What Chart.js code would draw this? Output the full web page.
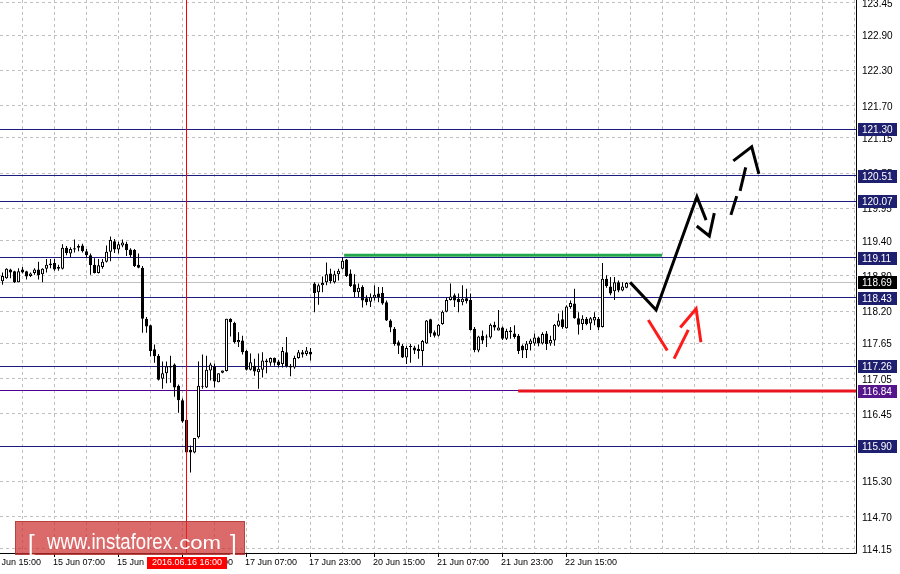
<!DOCTYPE html>
<html>
<head>
<meta charset="utf-8">
<script src="https://cdn.jsdelivr.net/npm/chart.js@4.4.0/dist/chart.umd.min.js"></script>
<style>
  html, body { margin: 0; padding: 0; background: #fff; }
</style>
</head>
<body>
<canvas id="myChart" width="900" height="574"></canvas>
<script>
  // H1 bars, index 0 = 14 Jun 15:00 (weekend hours skipped)
  const firstBar = 3;

  const openP = [
    118.71,118.76,118.91,118.88,118.69,118.91,118.88,118.80,118.85,118.91,
    118.83,118.92,118.98,119.02,118.95,118.92,119.28,119.18,119.27,119.28,
    119.32,119.22,119.15,118.99,118.85,118.95,119.04,119.21,119.39,119.25,
    119.32,119.35,119.25,119.24,118.99,118.94,118.07,117.96,117.55,117.44,
    117.05,117.14,117.24,117.29,116.93,116.68,116.35,115.84,115.79,116.05,
    116.91,116.90,117.19,117.26,116.99,117.15,117.18,118.07,118.00,117.67,
    117.70,117.52,117.20,117.27,117.16,117.20,117.33,117.32,117.40,117.34,
    117.30,117.50,117.27,117.24,117.40,117.50,117.47,117.51,118.67,118.52,
    118.64,118.69,118.84,118.69,118.83,118.92,119.08,118.84,118.66,118.52,
    118.61,118.42,118.36,118.43,118.50,118.51,118.35,118.04,117.90,117.67,
    117.61,117.41,117.59,117.58,117.56,117.52,117.65,118.06,117.84,117.78,
    117.98,118.19,118.39,118.47,118.41,118.35,118.42,118.39,117.90,117.53,
    117.78,117.77,117.75,117.97,117.87,117.92,117.73,117.84,117.82,117.78,
    117.61,117.54,117.64,117.65,117.75,117.65,117.82,117.65,117.70,117.95,
    118.06,117.91,118.27,118.33,118.08,117.98,118.07,117.99,118.04,118.07,
    117.93,118.75,118.62,118.54,118.69,118.55,118.60
  ];
  const highP = [
    118.86,118.93,118.92,118.89,118.93,118.95,118.89,118.86,118.93,119.04,
    118.93,119.09,119.09,119.09,118.99,119.34,119.31,119.29,119.42,119.34,
    119.35,119.26,119.18,119.10,119.09,119.09,119.32,119.47,119.43,119.38,
    119.42,119.38,119.27,119.26,119.18,118.97,118.10,117.97,117.63,117.47,
    117.34,117.34,117.44,117.31,116.95,116.71,116.37,115.91,116.04,117.34,
    117.46,117.44,117.32,117.31,117.14,117.19,118.07,118.08,118.02,117.84,
    117.78,117.54,117.48,117.39,117.48,117.50,117.39,117.41,117.41,117.37,
    117.59,117.76,117.30,117.44,117.54,117.54,117.59,117.57,118.69,118.67,
    118.79,119.03,118.92,118.89,118.92,119.12,119.09,118.91,118.83,118.67,
    118.64,118.47,118.50,118.64,118.61,118.61,118.38,118.06,117.93,117.70,
    117.64,117.61,117.64,117.61,117.63,117.71,118.05,118.07,117.87,117.98,
    118.21,118.43,118.67,118.50,118.50,118.64,118.58,118.50,117.93,117.78,
    117.87,117.80,117.99,118.02,118.22,117.94,117.90,117.93,117.96,117.81,
    117.63,117.69,117.73,117.82,117.77,117.84,117.86,117.78,117.98,118.16,
    118.21,118.30,118.38,118.58,118.18,118.13,118.10,118.10,118.18,118.10,
    119.02,118.81,118.78,118.78,118.72,118.69,118.69
  ];
  const lowP = [
    118.65,118.75,118.76,118.68,118.69,118.84,118.74,118.78,118.82,118.74,
    118.69,118.86,118.93,118.89,118.89,118.91,119.15,119.12,119.20,119.22,
    119.20,119.11,118.82,118.84,118.84,118.92,119.03,119.05,119.19,119.18,
    119.29,119.14,119.12,118.95,118.93,117.83,117.83,117.43,117.32,117.02,
    116.88,116.97,116.98,116.74,116.47,116.30,115.78,115.45,115.78,116.03,
    116.88,116.89,117.02,116.90,116.99,117.14,117.17,117.77,117.65,117.59,
    117.46,117.19,117.19,117.10,116.88,117.07,117.14,117.27,117.27,117.24,
    117.24,117.24,117.09,117.22,117.39,117.41,117.44,117.36,118.18,118.31,
    118.52,118.64,118.67,118.67,118.72,118.91,118.78,118.61,118.44,118.44,
    118.26,118.30,118.27,118.38,118.35,118.31,118.03,117.84,117.61,117.47,
    117.40,117.30,117.32,117.47,117.39,117.27,117.64,117.76,117.75,117.77,
    117.97,118.18,118.38,118.27,118.18,118.30,118.33,117.87,117.50,117.50,
    117.64,117.59,117.73,117.87,117.87,117.71,117.71,117.73,117.73,117.47,
    117.40,117.40,117.53,117.61,117.60,117.63,117.54,117.61,117.61,117.93,
    117.90,117.90,118.24,118.07,117.80,117.88,117.96,117.88,117.96,117.88,
    117.92,118.60,118.47,118.39,118.52,118.54,118.59
  ];
  const closeP = [
    118.80,118.92,118.86,118.69,118.88,118.86,118.79,118.84,118.91,118.81,
    118.92,118.99,119.01,118.91,118.92,119.28,119.19,119.26,119.25,119.31,
    119.22,119.15,118.98,118.85,118.98,119.04,119.21,119.41,119.25,119.34,
    119.37,119.24,119.15,118.97,118.94,118.07,117.94,117.52,117.43,117.03,
    117.14,117.26,117.27,116.90,116.68,116.32,115.79,115.79,116.04,116.93,
    116.93,117.20,117.29,117.00,117.14,117.19,118.07,118.01,117.67,117.71,
    117.50,117.20,117.33,117.17,117.22,117.36,117.36,117.40,117.32,117.28,
    117.52,117.26,117.24,117.40,117.50,117.46,117.53,117.46,118.51,118.64,
    118.68,118.83,118.71,118.83,118.89,119.06,118.80,118.63,118.52,118.60,
    118.38,118.35,118.44,118.48,118.44,118.33,118.04,117.92,117.64,117.61,
    117.41,117.57,117.60,117.53,117.52,117.69,118.04,117.82,117.78,117.97,
    118.19,118.39,118.45,118.38,118.35,118.41,118.37,117.88,117.54,117.77,
    117.70,117.75,117.97,117.92,117.92,117.73,117.86,117.87,117.76,117.52,
    117.53,117.65,117.70,117.75,117.65,117.81,117.64,117.71,117.97,118.04,
    117.93,118.28,118.34,118.08,117.97,118.07,117.98,118.08,118.10,117.92,
    118.75,118.63,118.50,118.69,118.55,118.62,118.68
  ];

  const yTicks = [123.45,122.90,122.30,121.70,121.15,120.55,119.95,119.40,118.80,
                  118.20,117.65,117.05,116.45,115.90,115.30,114.70,114.15];
  const xTickIndex = [0,16,32,48,64,80,96,112,128,144];
  const xTickText = ['14 Jun 15:00','15 Jun 07:00','15 Jun 23:00','16 Jun 15:00','17 Jun 07:00',
                     '17 Jun 23:00','20 Jun 15:00','21 Jun 07:00','21 Jun 23:00','22 Jun 15:00'];

  const blueLevels = [121.30,120.51,120.07,119.11,118.43,117.26,115.90];
  const purpleLevel = 116.84;
  const lastPrice = 118.69;
  const markerBar = 49;
  const markerText = '2016.06.16 16:00';

  // drawn analysis: [bar index, price]
  const greenLine = [[88.4,119.15],[167.9,119.15]];
  const redLine = [[131.9,116.84],[216.4,116.84]];
  const blackMain = [[159.9,118.69],[166.4,118.22],[176.6,120.15],[178.9,119.75]];
  const blackHook = [[176.55,119.65],[179.7,119.48],[180.95,119.87]];
  const blackDash1 = [[185.1,119.84],[186.55,120.16]];
  const blackDash2 = [[187.4,120.25],[188.8,120.65]];
  const blackHead = [[185.7,120.76],[190.3,121.00],[192.1,120.54]];
  const redStroke1 = [[164.45,118.05],[169.2,117.53]];
  const redStroke2 = [[170.9,117.39],[174.45,117.88]];
  const redHead = [[172.45,117.92],[176.4,118.24],[177.6,117.67]];

  const X_MIN = 2.375, X_MAX = 216.375;
  const font9 = '9px "Liberation Sans", Arial, sans-serif';
  const font10 = '10px "Liberation Sans", Arial, sans-serif';

  const bars = openP.map((o, k) => firstBar + k);
  const bodyData = bars.map((x, k) => ({x: x, y: [openP[k], closeP[k]]}));
  const wickData = bars.map((x, k) => ({x: x, y: [lowP[k], highP[k]]}));
  const bodyFill = bars.map((x, k) => closeP[k] >= openP[k] ? '#ffffff' : '#000000');

  function stroke(points, color, width) {
    return {
      type: 'line',
      data: points.map(p => ({x: p[0], y: p[1]})),
      borderColor: color,
      borderWidth: width,
      pointRadius: 0,
      tension: 0,
      fill: false,
      borderCapStyle: 'butt',
      borderJoinStyle: 'miter',
      order: 0
    };
  }

  const mtOverlay = {
    id: 'mtOverlay',
    beforeDatasetsDraw(chart) {
      const {ctx, chartArea: a, scales: {x, y}} = chart;
      const hline = (v, color) => {
        const py = Math.round(y.getPixelForValue(v) - 0.5) + 0.5;
        ctx.strokeStyle = color;
        ctx.beginPath(); ctx.moveTo(a.left, py); ctx.lineTo(a.right, py); ctx.stroke();
      };
      ctx.save();
      ctx.lineWidth = 1;
      ctx.strokeStyle = '#c0c0c0';
      ctx.setLineDash([3, 3]);
      for (let v = 0; v <= 216; v += 8) {
        const px = Math.round(x.getPixelForValue(v) - 0.5) + 0.5;
        if (px < a.left || px > a.right) continue;
        ctx.beginPath(); ctx.moveTo(px, a.top); ctx.lineTo(px, a.bottom); ctx.stroke();
      }
      yTicks.forEach(v => {
        const py = Math.round(y.getPixelForValue(v) - 0.5) + 0.5;
        ctx.beginPath(); ctx.moveTo(a.left, py); ctx.lineTo(a.right, py); ctx.stroke();
      });
      ctx.setLineDash([]);
      hline(lastPrice, '#c0c0c0');
      blueLevels.forEach(v => hline(v, '#1c1c80'));
      hline(purpleLevel, '#500090');
      ctx.restore();
    },
    afterDatasetsDraw(chart) {
      const {ctx, chartArea: a, scales: {x}} = chart;
      const px = Math.round(x.getPixelForValue(markerBar) - 0.5) + 0.5;
      ctx.save();
      ctx.strokeStyle = '#ff0000';
      ctx.lineWidth = 1;
      ctx.beginPath(); ctx.moveTo(px, a.top); ctx.lineTo(px, a.bottom); ctx.stroke();
      ctx.restore();
    },
    afterDraw(chart) {
      const {ctx, chartArea: a, scales: {x, y}} = chart;
      ctx.save();
      // axis lines
      ctx.strokeStyle = '#000';
      ctx.lineWidth = 1;
      ctx.beginPath();
      ctx.moveTo(a.left, a.bottom + 0.5); ctx.lineTo(a.right + 0.5, a.bottom + 0.5);
      ctx.lineTo(a.right + 0.5, a.top);
      ctx.stroke();

      // price scale
      ctx.font = font10;
      ctx.textBaseline = 'middle';
      ctx.textAlign = 'left';
      ctx.fillStyle = '#000';
      yTicks.forEach(v => {
        const py = Math.round(y.getPixelForValue(v));
        ctx.fillText(v.toFixed(2), a.right + 6, py + 1);
      });
      const box = (v, bg) => {
        const py = Math.round(y.getPixelForValue(v));
        ctx.fillStyle = bg;
        ctx.fillRect(a.right + 2, py - 6, 39, 13);
        ctx.fillStyle = '#fff';
        ctx.fillText(v.toFixed(2), a.right + 6, py + 1);
      };
      blueLevels.forEach(v => box(v, '#1f1f6f'));
      box(purpleLevel, '#55168c');
      box(lastPrice, '#000000');

      // time scale
      ctx.font = font9;
      ctx.fillStyle = '#000';
      xTickIndex.forEach((v, k) => {
        const px = Math.round(x.getPixelForValue(v) - 0.5);
        ctx.fillRect(px, a.bottom + 1, 1, 3);
        ctx.fillText(xTickText[k], px - 1, a.bottom + 10);
      });

      // watermark
      ctx.fillStyle = 'rgba(205,50,50,0.72)';
      ctx.fillRect(15, 521, 230, 34);
      ctx.strokeStyle = 'rgba(160,40,40,0.6)';
      ctx.strokeRect(15.5, 521.5, 229, 33);
      ctx.fillStyle = '#fff';
      ctx.textBaseline = 'alphabetic';
      ctx.font = '24px "Liberation Sans", Arial, sans-serif';
      ctx.fillText('[', 28, 551);
      ctx.fillText(']', 230, 551);
      ctx.font = '22px "Liberation Sans", Arial, sans-serif';
      const main = 'www.instaforex';
      const w1 = ctx.measureText(main).width;
      ctx.save();
      ctx.translate(47, 549);
      ctx.scale(125 / w1, 1);
      ctx.fillText(main, 0, 0);
      ctx.restore();
      ctx.font = '19px "Liberation Sans", Arial, sans-serif';
      const w2 = ctx.measureText('.com').width;
      ctx.save();
      ctx.translate(173, 549);
      ctx.scale(48 / w2, 1);
      ctx.fillText('.com', 0, 0);
      ctx.restore();

      // marker time label
      const mx = Math.round(x.getPixelForValue(markerBar));
      ctx.fillStyle = '#ff0000';
      ctx.fillRect(mx - 40, a.bottom + 4, 80, 12);
      ctx.fillStyle = '#fff';
      ctx.font = font9;
      ctx.textAlign = 'center';
      ctx.textBaseline = 'middle';
      ctx.fillText(markerText, mx, a.bottom + 10);
      ctx.restore();
    }
  };

  const data = {
    datasets: [
      stroke(greenLine, '#22a84a', 3),
      stroke(redLine, '#e8141e', 3),
      stroke(blackMain, '#000000', 3),
      stroke(blackHook, '#000000', 3),
      stroke(blackDash1, '#000000', 3),
      stroke(blackDash2, '#000000', 3),
      stroke(blackHead, '#000000', 3),
      stroke(redStroke1, '#ff1a1a', 3),
      stroke(redStroke2, '#ff1a1a', 3),
      stroke(redHead, '#ff1a1a', 3),
      {
        label: 'body',
        data: bodyData,
        backgroundColor: bodyFill,
        borderColor: '#000000',
        borderWidth: 1,
        borderSkipped: false,
        barThickness: 3,
        grouped: false,
        inflateAmount: 0,
        minBarLength: 1,
        order: 1
      },
      {
        label: 'wick',
        data: wickData,
        backgroundColor: '#000000',
        borderWidth: 0,
        barThickness: 1,
        grouped: false,
        inflateAmount: 0,
        order: 2
      }
    ]
  };

  const config = {
    type: 'bar',
    data: data,
    options: {
      responsive: false,
      devicePixelRatio: 1,
      animation: false,
      layout: { padding: 0 },
      plugins: { legend: { display: false }, tooltip: { enabled: false } },
      scales: {
        x: {
          type: 'linear',
          min: X_MIN,
          max: X_MAX,
          offset: false,
          ticks: { display: false },
          grid: { display: false, offset: false },
          border: { display: false },
          afterFit: s => { s.height = 21; }
        },
        y: {
          position: 'right',
          min: 114.08,
          max: 123.50,
          ticks: { display: false },
          grid: { display: false },
          border: { display: false },
          afterFit: s => { s.width = 44; }
        }
      }
    },
    plugins: [mtOverlay]
  };

  const myChart = new Chart(document.getElementById('myChart'), config);
</script>
</body>
</html>
